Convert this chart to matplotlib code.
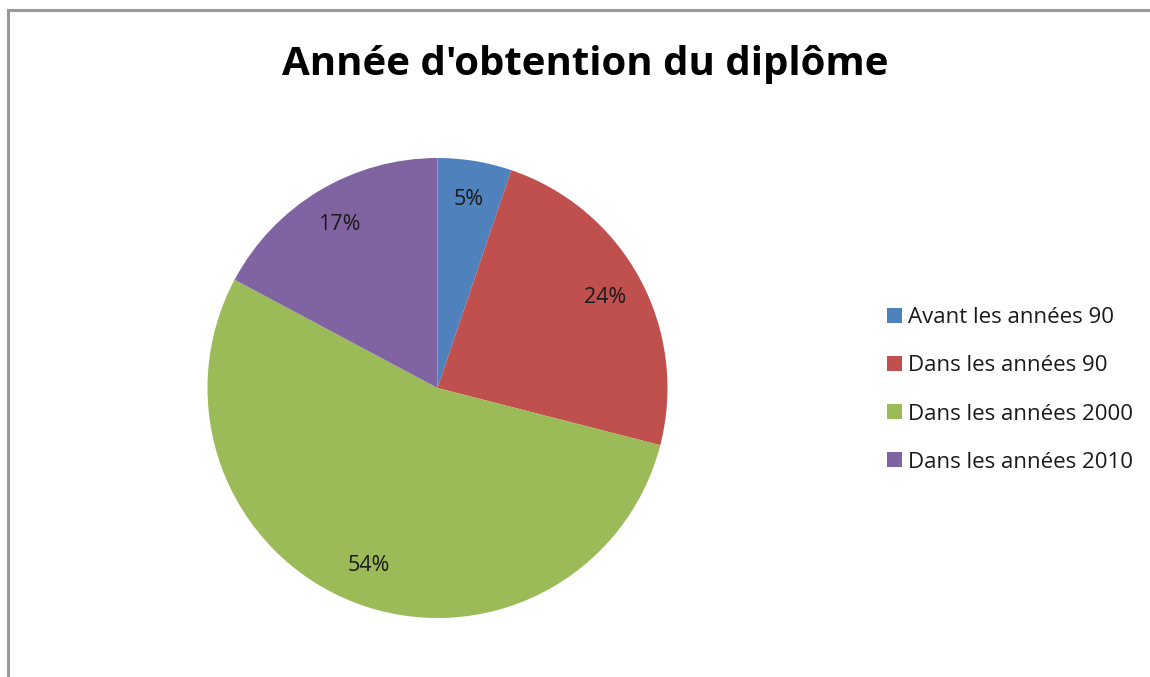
import matplotlib

matplotlib.use("Agg")
import matplotlib.pyplot as plt
from matplotlib.lines import Line2D
from matplotlib.patches import Patch

TITLE = "Année d'obtention du diplôme"
CATEGORIES = [
    "Avant les années 90",
    "Dans les années 90",
    "Dans les années 2000",
    "Dans les années 2010",
]
SHARES = [5.2, 23.8, 53.8, 17.2]
COLORS = ["#4F81BD", "#C0504D", "#9BBB59", "#8064A2"]

FONT = ["Open Sans", "DejaVu Sans"]

W, H = 1150, 677
fig = plt.figure(figsize=(W / 100, H / 100), dpi=100)

# frame on the left and top only
fig.add_artist(Line2D([7.5 / W, 7.5 / W], [0, 1 - 10 / H], color="#999999", lw=2.2))
fig.add_artist(Line2D([7.5 / W, 1], [1 - 10 / H, 1 - 10 / H], color="#999999", lw=2.2))

fig.text(585 / W, 1 - 64 / H, TITLE, ha="center", va="center",
         fontsize=29, fontweight="bold", family=FONT)

cx, cy, r = 437.5, 388, 230
ax = fig.add_axes([(cx - r) / W, (H - cy - r) / H, 2 * r / W, 2 * r / H])
wedges, texts, autotexts = ax.pie(
    SHARES,
    colors=COLORS,
    startangle=90,
    counterclock=False,
    autopct="%.0f%%",
    pctdistance=0.83,
    wedgeprops={"linewidth": 0},
    textprops={"fontsize": 15.5, "family": FONT, "color": "#1a1a1a"},
)
ax.set_xlim(-1, 1)
ax.set_ylim(-1, 1)
ax.set_aspect("equal")

handles = [Patch(facecolor=c, edgecolor="none") for c in COLORS]
leg = fig.legend(
    handles, CATEGORIES,
    loc="center left",
    bbox_to_anchor=(878 / W, 1 - 390 / H),
    frameon=False,
    prop={"family": FONT, "size": 16},
    handlelength=0.66,
    handleheight=0.66,
    handletextpad=0.3,
    labelspacing=1.22,
    borderaxespad=0,
)
for t in leg.get_texts():
    t.set_color("#1a1a1a")

fig.savefig("out.png", dpi=100)
